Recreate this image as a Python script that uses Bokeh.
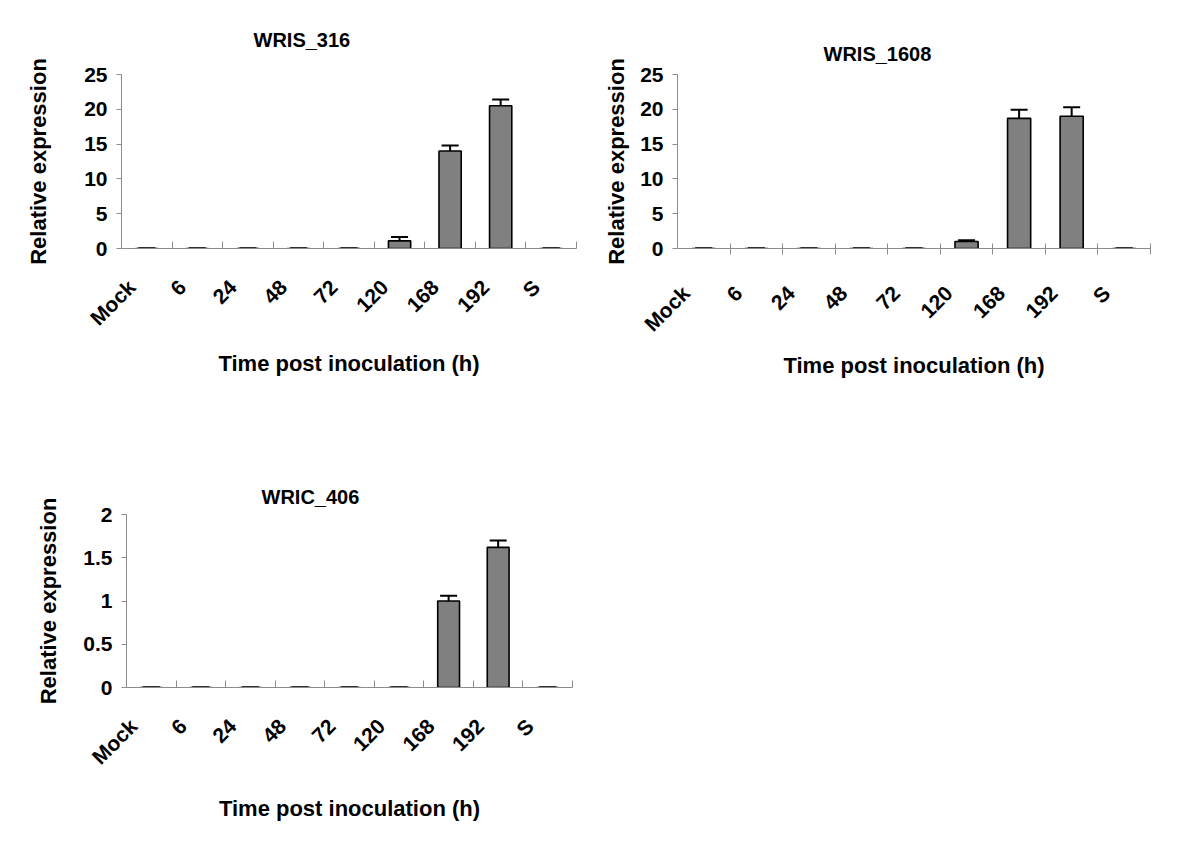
import math
from bokeh.plotting import figure
from bokeh.models import Range1d, FixedTicker, Whisker, TeeHead, ColumnDataSource, Title
from bokeh.layouts import column, row
from bokeh.embed import file_html
from bokeh.resources import INLINE

# ---------------- data ----------------
categories = ["Mock", "6", "24", "48", "72", "120", "168", "192", "S"]

wris316_mean = [0, 0, 0, 0, 0, 1.1, 14.0, 20.5, 0]
wris316_err = [0, 0, 0, 0, 0, 0.55, 0.8, 0.9, 0]

wris1608_mean = [0, 0, 0, 0, 0, 1.0, 18.7, 19.0, 0]
wris1608_err = [0, 0, 0, 0, 0, 0.2, 1.25, 1.3, 0]

wric406_mean = [0, 0, 0, 0, 0, 0, 1.0, 1.62, 0]
wric406_err = [0, 0, 0, 0, 0, 0, 0.06, 0.08, 0]

y_ticks_big = [0, 5, 10, 15, 20, 25]
y_labels_big = ["0", "5", "10", "15", "20", "25"]
y_ticks_small = [0, 0.5, 1, 1.5, 2]
y_labels_small = ["0", "0.5", "1", "1.5", "2"]

FONT = "Liberation Sans"
AXIS_GRAY = "#8c8c8c"


def make_chart(title, means, errs, yticks, ylabels, ymax, width, height,
               bl, br, bt, bb, title_offset, title_standoff, label_shift,
               tick_in, tick_out, ylab_standoff, xlab_standoff):
    n = len(categories)
    xs = list(range(n))
    p = figure(width=width, height=height, output_backend="svg",
               toolbar_location=None, x_range=Range1d(-0.5, n - 0.5),
               y_range=Range1d(0, ymax), min_border_left=bl,
               min_border_right=br, min_border_top=bt, min_border_bottom=bb)
    p.outline_line_color = None
    p.xgrid.visible = False
    p.ygrid.visible = False
    p.background_fill_color = "white"
    p.border_fill_color = "white"

    src = ColumnDataSource(dict(x=xs, top=means))
    p.vbar(x="x", top="top", bottom=0, width=0.44, source=src,
           fill_color="#808080", line_color="black", line_width=1.6)

    esrc = ColumnDataSource(dict(x=xs, upper=[m + e for m, e in zip(means, errs)],
                                 lower=[m - e for m, e in zip(means, errs)]))
    w = Whisker(source=esrc, base="x", upper="upper", lower="lower",
                line_color="black", line_width=2,
                upper_head=TeeHead(size=17, line_color="black", line_width=2),
                lower_head=TeeHead(size=17, line_color="black", line_width=2))
    p.add_layout(w)

    # x axis: labels (shifted) on major ticks, boundary marks as minor ticks
    label_pos = [i + label_shift for i in xs]
    p.xaxis.ticker = FixedTicker(ticks=label_pos,
                                 minor_ticks=[i + 0.5 for i in xs])
    p.xaxis.major_label_overrides = {lp: c for lp, c in zip(label_pos, categories)}
    p.xaxis.major_label_orientation = math.pi / 4
    p.xaxis.major_tick_in = 0
    p.xaxis.major_tick_out = 0
    p.xaxis.minor_tick_in = tick_in
    p.xaxis.minor_tick_out = tick_out
    p.xaxis.minor_tick_line_color = AXIS_GRAY
    p.xaxis.axis_line_color = AXIS_GRAY
    p.xaxis.major_label_standoff = 35
    p.xaxis.major_label_text_font = FONT
    p.xaxis.major_label_text_font_style = "bold"
    p.xaxis.major_label_text_font_size = "21px"
    p.xaxis.major_label_text_color = "black"
    p.xaxis.axis_label = "Time post inoculation (h)"
    p.xaxis.axis_label_text_font = FONT
    p.xaxis.axis_label_text_font_style = "bold"
    p.xaxis.axis_label_text_font_size = "22px"
    p.xaxis.axis_label_text_color = "black"
    p.xaxis.axis_label_standoff = xlab_standoff

    p.yaxis.ticker = FixedTicker(ticks=yticks, minor_ticks=[])
    p.yaxis.major_label_overrides = {t: l for t, l in zip(yticks, ylabels)}
    p.yaxis.major_tick_in = 0
    p.yaxis.major_tick_out = 5
    p.yaxis.major_tick_line_color = AXIS_GRAY
    p.yaxis.axis_line_color = AXIS_GRAY
    p.yaxis.major_label_standoff = 9
    p.yaxis.major_label_text_font = FONT
    p.yaxis.major_label_text_font_style = "bold"
    p.yaxis.major_label_text_font_size = "21px"
    p.yaxis.major_label_text_color = "black"
    p.yaxis.axis_label = "Relative expression"
    p.yaxis.axis_label_text_font = FONT
    p.yaxis.axis_label_text_font_style = "bold"
    p.yaxis.axis_label_text_font_size = "22px"
    p.yaxis.axis_label_text_color = "black"
    p.yaxis.axis_label_standoff = ylab_standoff

    p.add_layout(Title(text=title, align="left", offset=title_offset,
                       text_font=FONT, text_font_style="bold",
                       text_font_size="20px", text_color="black",
                       standoff=title_standoff), "above")
    return p


p1 = make_chart("WRIS_316", wris316_mean, wris316_err, y_ticks_big, y_labels_big,
                25, 598, 432, 121, 22, 58, 184, 132, 47, -0.30, 7, 0, 30, 10)
p2 = make_chart("WRIS_1608", wris1608_mean, wris1608_err, y_ticks_big, y_labels_big,
                25, 584, 432, 79, 32, 74, 181, 146, 20, -0.34, 5, 6, 8, 6)
p3 = make_chart("WRIC_406", wric406_mean, wric406_err, y_ticks_small, y_labels_small,
                2, 598, 410, 126, 26, 82, 155, 135, 13, -0.36, 7, 0, 19, 16)

layout = column(row(p1, p2), row(p3))
open("out.html", "w").write(file_html(layout, INLINE))
